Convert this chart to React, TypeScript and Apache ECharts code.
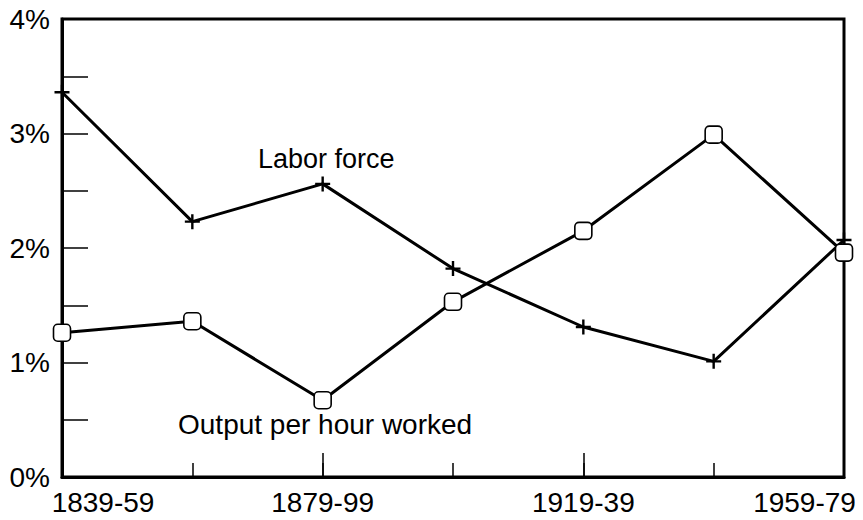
import React, { useEffect, useRef } from "react";
import * as echarts from "echarts";

const categories = ["1839-59", "1859-79", "1879-99", "1899-1919", "1919-39", "1939-59", "1959-79"];
const laborForce = [3.36, 2.23, 2.56, 1.82, 1.31, 1.01, 2.07];
const outputPerHour = [1.26, 1.36, 0.67, 1.53, 2.15, 2.99, 1.96];
const yTickLabels = ["0%", "1%", "2%", "3%", "4%"];

const FONT = "Liberation Sans";
const PLUS = "path://M4.2,0 H5.8 V4.2 H10 V5.8 H5.8 V10 H4.2 V5.8 H0 V4.2 H4.2 Z";

export default function App() {
  const ref = useRef<HTMLDivElement>(null);
  useEffect(() => {
    if (!ref.current) return;
    const chart = echarts.init(ref.current, null, { renderer: "svg" });
    const lab = { fontFamily: FONT, fontSize: 28, color: "#000" };
    chart.setOption({
      animation: false,
      backgroundColor: "#fff",
      grid: {
        left: 62,
        right: 19,
        top: 19,
        bottom: 43,
        show: true,
        borderColor: "#000",
        borderWidth: 3,
      },
      xAxis: [
        {
          type: "category",
          data: categories,
          boundaryGap: false,
          axisLine: { show: true, lineStyle: { color: "#000", width: 3 } },
          axisTick: { show: true, inside: true, interval: 0, length: 14, lineStyle: { color: "#000", width: 1.5 } },
          axisLabel: {
            interval: 1,
            color: "#000",
            fontFamily: FONT,
            fontSize: 28,
            margin: 11,
            formatter: (v: string, i: number) =>
              i === 0 ? `{first|${v}}` : i === categories.length - 1 ? `{last|${v}}` : `{mid|${v}}`,
            rich: {
              first: { ...lab, padding: [0, 0, 0, 82] },
              last: { ...lab, padding: [0, 79, 0, 0] },
              mid: { ...lab },
            },
          },
          splitLine: { show: false },
        },
        {
          type: "category",
          data: categories,
          boundaryGap: false,
          position: "bottom",
          axisLine: { show: false },
          axisTick: { show: true, inside: true, interval: 1, length: 24, lineStyle: { color: "#000", width: 1.5 } },
          axisLabel: { show: false },
          splitLine: { show: false },
        },
      ],
      yAxis: {
        type: "value",
        min: 0,
        max: 4,
        interval: 0.5,
        axisLine: { show: true, lineStyle: { color: "#000", width: 3 } },
        axisTick: { show: true, inside: true, length: 26, lineStyle: { color: "#000", width: 1.5 } },
        axisLabel: {
          color: "#000",
          fontFamily: FONT,
          fontSize: 28,
          margin: 12,
          formatter: (v: number) => (Number.isInteger(v) ? yTickLabels[v] : ""),
        },
        splitLine: { show: false },
      },
      series: [
        {
          name: "Labor force",
          type: "line",
          xAxisIndex: 0,
          data: laborForce,
          symbol: PLUS,
          symbolSize: 15,
          lineStyle: { color: "#000", width: 3 },
          itemStyle: { color: "#000" },
          z: 3,
        },
        {
          name: "Output per hour worked",
          type: "line",
          xAxisIndex: 0,
          data: outputPerHour,
          symbol: "roundRect",
          symbolSize: 17,
          lineStyle: { color: "#000", width: 3 },
          itemStyle: { color: "#fff", borderColor: "#000", borderWidth: 1.6 },
          z: 4,
        },
      ],
      graphic: [
        {
          type: "text",
          left: 258,
          top: 145,
          style: { text: "Labor force", fill: "#000", font: `27px "${FONT}"` },
        },
        {
          type: "text",
          left: 178,
          top: 410,
          style: { text: "Output per hour worked", fill: "#000", font: `28px "${FONT}"` },
        },
      ],
    });
    return () => chart.dispose();
  }, []);
  return <div ref={ref} style={{ width: 863, height: 520, margin: -8 }} />;
}
